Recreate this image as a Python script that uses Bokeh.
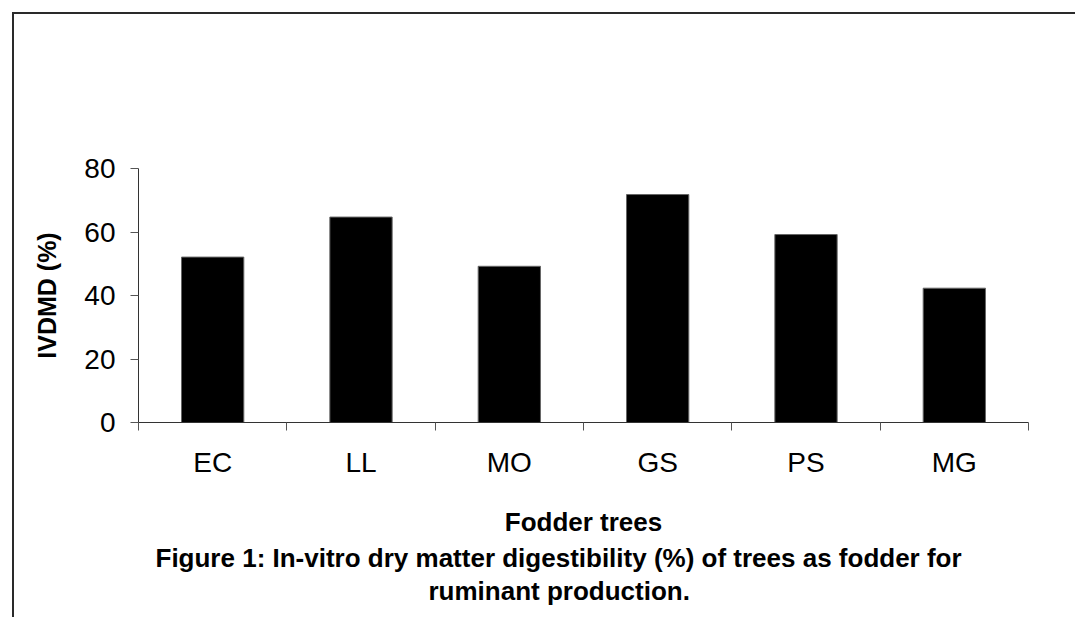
from bokeh.plotting import figure
from bokeh.models import Range1d, FixedTicker, Title
from bokeh.embed import file_html
from bokeh.resources import INLINE

categories = ["EC", "LL", "MO", "GS", "PS", "MG"]
ivdmd = [52.1, 64.7, 49.2, 71.8, 59.2, 42.3]
y_ticks = [0, 20, 40, 60, 80]
x_title = "Fodder trees"
y_title = "IVDMD (%)"
caption = ["Figure 1: In-vitro dry matter digestibility (%) of trees as fodder for",
           "ruminant production."]

FONT = "Liberation Sans"

p = figure(width=1075, height=617, output_backend="svg", toolbar_location=None,
           x_range=Range1d(0, len(categories)), y_range=Range1d(0, 80),
           min_border_left=138, min_border_right=47, min_border_top=168, min_border_bottom=195)
p.outline_line_color = None
p.grid.grid_line_color = None
p.background_fill_color = None
p.border_fill_color = None
# outer frame lines (top and left) drawn behind the transparent canvas
p.styles = {"box-shadow": "inset 12px 12px 0 0 white, inset 14px 14px 0 0 #2a2a2a",
            "background-color": "white"}

xs = [i + 0.5 for i in range(len(categories))]
p.vbar(x=xs, top=ivdmd, width=0.42, bottom=0, fill_color="black", line_color="#666666", line_width=1)

# y axis
ya = p.yaxis[0]
ya.ticker = FixedTicker(ticks=y_ticks)
ya.axis_line_color = "#333333"
ya.major_tick_line_color = "#555555"
ya.major_tick_out = 8
ya.major_tick_in = 0
ya.minor_tick_line_color = None
ya.major_label_text_font = FONT
ya.major_label_text_font_size = "28px"
ya.major_label_text_color = "black"
ya.major_label_standoff = 15
ya.axis_label = y_title
ya.axis_label_text_font = FONT
ya.axis_label_text_font_size = "25px"
ya.axis_label_text_font_style = "bold"
ya.axis_label_text_color = "black"
ya.axis_label_standoff = 20

# x axis
xa = p.xaxis[0]
xa.ticker = FixedTicker(ticks=xs, minor_ticks=list(range(len(categories) + 1)))
xa.major_label_overrides = {x: c for x, c in zip(xs, categories)}
xa.axis_line_color = "#333333"
xa.major_tick_line_color = None
xa.major_tick_out = 8
xa.major_tick_in = 0
xa.minor_tick_line_color = "#555555"
xa.minor_tick_out = 8
xa.minor_tick_in = 0
xa.major_label_text_font = FONT
xa.major_label_text_font_size = "28px"
xa.major_label_text_color = "black"
xa.major_label_standoff = 16
xa.axis_label = x_title
xa.axis_label_text_font = FONT
xa.axis_label_text_font_size = "26px"
xa.axis_label_text_font_style = "bold"
xa.axis_label_text_color = "black"
xa.axis_label_standoff = 26

for line, off, so in zip(caption, [17, 290], [2, 0]):
    p.add_layout(Title(text=line, align="left", offset=off, standoff=so, text_font=FONT,
                       text_font_size="26px", text_font_style="bold", text_color="black"), "below")

open("out.html", "w").write(file_html(p, INLINE))
